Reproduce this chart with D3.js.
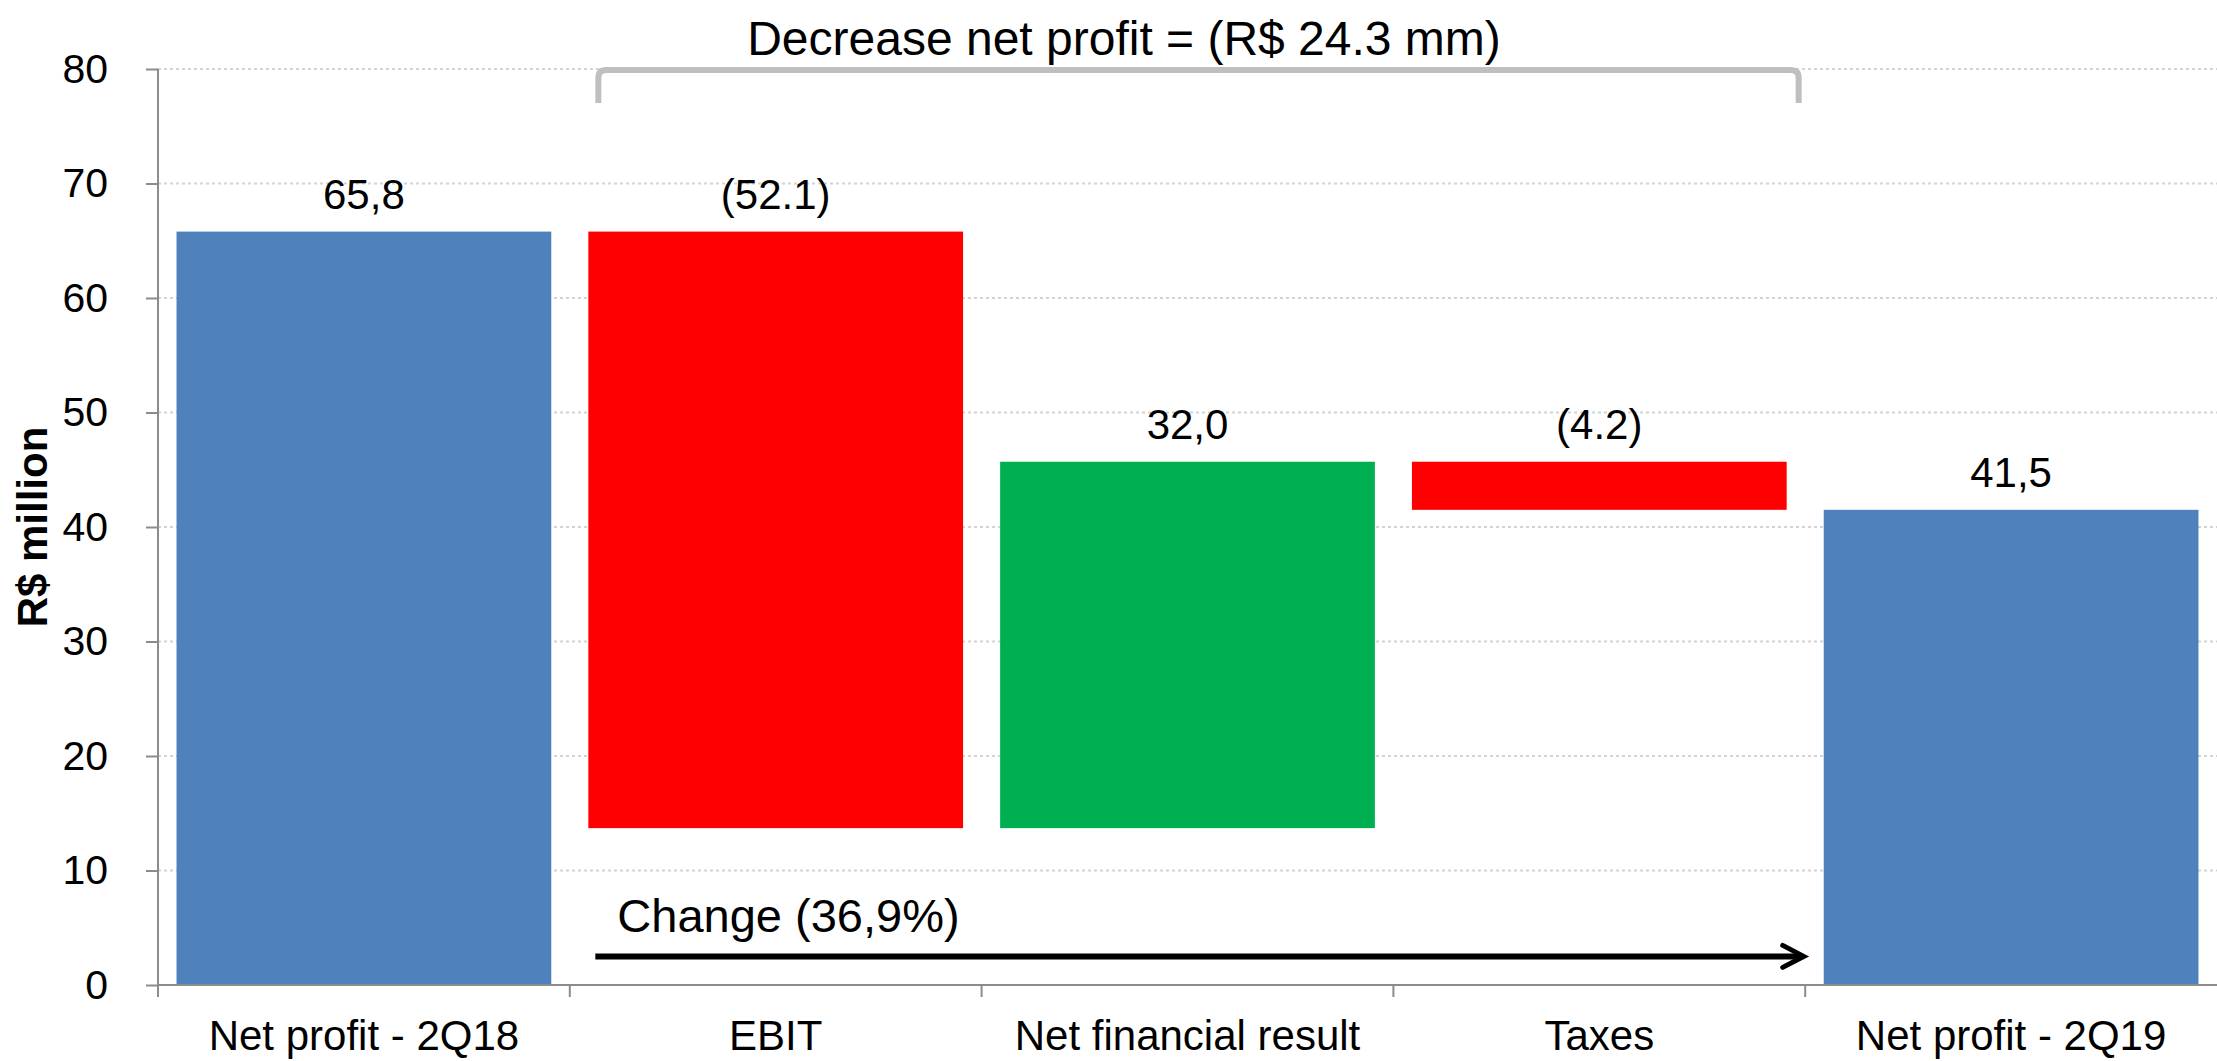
<!DOCTYPE html>
<html>
<head>
<meta charset="utf-8">
<script src="https://cdn.jsdelivr.net/npm/d3@7"></script>
<style>
  body { margin: 0; background: #fff; }
  text { font-family: "Liberation Sans", Arial, sans-serif; fill: #000; }
</style>
</head>
<body>
<div id="chart"></div>
<script>
// waterfall data
const categories = ["Net profit - 2Q18", "EBIT", "Net financial result", "Taxes", "Net profit - 2Q19"];
const changes = [65.8, -52.1, 32.0, -4.2, 41.5];
const kinds = ["total", "delta", "delta", "delta", "total"];
const valueLabels = ["65,8", "(52.1)", "32,0", "(4.2)", "41,5"];
const yTicks = [0, 10, 20, 30, 40, 50, 60, 70, 80];
const titleText = "Decrease net profit = (R$ 24.3 mm)";
const changeText = "Change (36,9%)";
const yTitle = "R$ million";

const width = 2217, height = 1061;
const colors = { total: "#4f81bd", up: "#00b050", down: "#ff0000" };

// build start/end of each bar
let running = 0;
const bars = categories.map((c, i) => {
    let d;
    if (kinds[i] == "total") {
        d = { cat: c, lo: 0, hi: changes[i], color: colors.total };
        running = changes[i];
    } else {
        const start = running;
        running += changes[i];
        d = { cat: c, lo: Math.min(start, running), hi: Math.max(start, running),
              color: changes[i] < 0 ? colors.down : colors.up };
    }
    d.label = valueLabels[i];
    return d;
});

const svg = d3.select("#chart").append("svg")
    .attr("width", width)
    .attr("height", height);

const x = d3.scaleBand()
    .domain(categories)
    .range([158, width])
    .paddingInner(0.09)
    .paddingOuter(0.045);

const y = d3.scaleLinear()
    .domain([0, 80])
    .range([985, 69]);

// dotted gridlines
svg.append("g").selectAll("line")
    .data(yTicks.filter(t => t > 0))
    .enter().append("line")
        .attr("x1", 158).attr("x2", width)
        .attr("y1", d => y(d)).attr("y2", d => y(d))
        .attr("stroke", "#d4d4d4")
        .attr("stroke-width", 2)
        .attr("stroke-dasharray", "3,3");

// bars
svg.append("g").selectAll("rect")
    .data(bars)
    .enter().append("rect")
        .attr("x", d => x(d.cat))
        .attr("width", x.bandwidth())
        .attr("y", d => y(d.hi))
        .attr("height", d => y(d.lo) - y(d.hi))
        .attr("fill", d => d.color);

// value labels
svg.append("g").selectAll("text")
    .data(bars)
    .enter().append("text")
        .attr("x", d => x(d.cat) + x.bandwidth() / 2)
        .attr("y", d => y(d.hi) - 23)
        .attr("text-anchor", "middle")
        .style("font-size", "42px")
        .text(d => d.label);

// y axis
const yAxis = d3.axisLeft(y)
    .tickValues(yTicks)
    .tickSize(12)
    .tickPadding(38);
const yAxisG = svg.append("g")
    .attr("transform", "translate(158,0)")
    .call(yAxis);
yAxisG.select(".domain").attr("stroke", "#8c8c8c").attr("stroke-width", 2)
    .attr("d", `M0,${y(80)}V${y(0)}`);
yAxisG.selectAll(".tick line").attr("stroke", "#8c8c8c").attr("stroke-width", 2);
yAxisG.selectAll(".tick text")
    .style("font-size", "41px")
    .style("font-family", "Liberation Sans, Arial, sans-serif")
    .attr("fill", "#000");

// x axis line and separators
svg.append("line")
    .attr("x1", 158).attr("x2", width)
    .attr("y1", y(0)).attr("y2", y(0))
    .attr("stroke", "#8c8c8c")
    .attr("stroke-width", 2);

const step = x.step();
const sepX = d3.range(categories.length).map(i => 158 + i * step);
svg.append("g").selectAll("line")
    .data(sepX)
    .enter().append("line")
        .attr("x1", d => d).attr("x2", d => d)
        .attr("y1", y(0)).attr("y2", y(0) + 12)
        .attr("stroke", "#8c8c8c")
        .attr("stroke-width", 2);

svg.append("g").selectAll("text")
    .data(categories)
    .enter().append("text")
        .attr("x", d => x(d) + x.bandwidth() / 2)
        .attr("y", 1050)
        .attr("text-anchor", "middle")
        .style("font-size", "42px")
        .text(d => d);

// y axis title
svg.append("text")
    .attr("transform", `translate(47,${(y(0) + y(80)) / 2}) rotate(-90)`)
    .attr("text-anchor", "middle")
    .style("font-size", "42px")
    .style("font-weight", "bold")
    .text(yTitle);

// bracket on top
const bx1 = x(categories[1]) + 10;
const bx2 = x(categories[3]) + x.bandwidth() + 12;
const byTop = y(80) + 1;
const byBot = byTop + 33;
const r = 8;
svg.append("path")
    .attr("d", `M${bx1},${byBot}L${bx1},${byTop + r}Q${bx1},${byTop} ${bx1 + r},${byTop}` +
               `L${bx2 - r},${byTop}Q${bx2},${byTop} ${bx2},${byTop + r}L${bx2},${byBot}`)
    .attr("fill", "none")
    .attr("stroke", "#bfbfbf")
    .attr("stroke-width", 6);

svg.append("text")
    .attr("x", 1124)
    .attr("y", 55)
    .attr("text-anchor", "middle")
    .style("font-size", "48px")
    .text(titleText);

// change arrow
const ay = y(2.5);
const ax1 = x(categories[1]) + 7;
const ax2 = x(categories[4]) - 20;
svg.append("line")
    .attr("x1", ax1).attr("x2", ax2 - 2)
    .attr("y1", ay).attr("y2", ay)
    .attr("stroke", "#000")
    .attr("stroke-width", 6);
svg.append("path")
    .attr("d", `M${ax2 - 21},${ay - 11}L${ax2},${ay}L${ax2 - 21},${ay + 11}`)
    .attr("fill", "none")
    .attr("stroke", "#000")
    .attr("stroke-width", 5)
    .attr("stroke-linecap", "round");

svg.append("text")
    .attr("x", ax1 + 22)
    .attr("y", 932)
    .style("font-size", "47px")
    .text(changeText);
</script>
</body>
</html>
